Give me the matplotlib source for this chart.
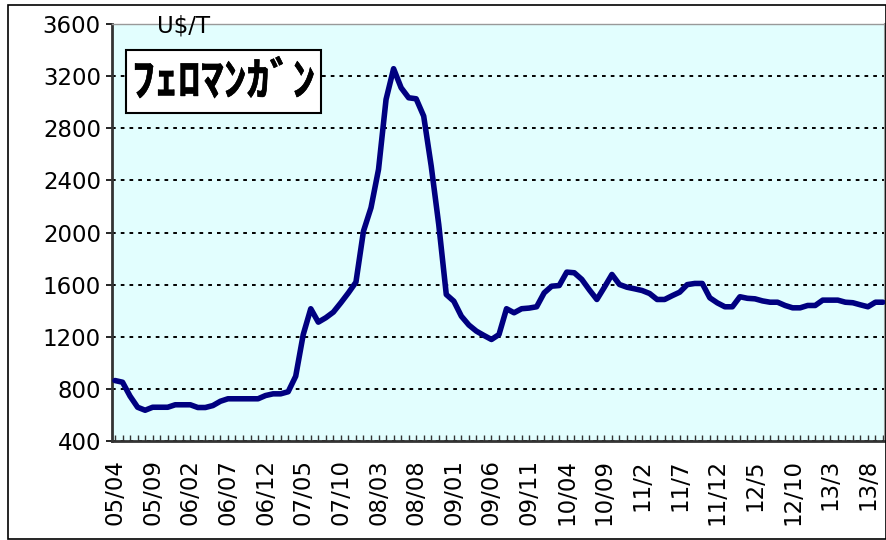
import matplotlib
matplotlib.use("Agg")
import matplotlib.pyplot as plt
from matplotlib.patches import Rectangle
import matplotlib.patheffects as pe
import numpy as np

# Monthly ferromanganese price, US$/T, 2005/04 .. 2013/10
prices = [
    864, 851, 744, 659, 636, 659, 659, 659, 678, 678,
    678, 657, 657, 672, 705, 724, 724, 724, 724, 724,
    749, 762, 762, 778, 897, 1217, 1415, 1312, 1346, 1389,
    1461, 1537, 1619, 2010, 2190, 2484, 3021, 3257, 3111, 3034,
    3026, 2893, 2509, 2060, 1524, 1473, 1358, 1290, 1243, 1210,
    1179, 1217, 1415, 1384, 1415, 1420, 1430, 1537, 1588, 1593,
    1696, 1691, 1640, 1560, 1486, 1580, 1678, 1601, 1580, 1568,
    1555, 1532, 1486, 1486, 1515, 1542, 1600, 1609, 1609, 1499,
    1460, 1430, 1430, 1507, 1495, 1491, 1475, 1465, 1465, 1440,
    1422, 1422, 1440, 1440, 1481, 1481, 1481, 1465, 1461, 1445,
    1430, 1465, 1465,
]
tick_labels = ["05/04", "05/09", "06/02", "06/07", "06/12", "07/05", "07/10",
               "08/03", "08/08", "09/01", "09/06", "09/11", "10/04", "10/09",
               "11/2", "11/7", "11/12", "12/5", "12/10", "13/3", "13/8"]
y_ticks = [400, 800, 1200, 1600, 2000, 2400, 2800, 3200, 3600]
unit_label = "U$/T"
title = "ﾌｪﾛﾏﾝｶﾞﾝ"

W, H = 887, 540
fig = plt.figure(figsize=(W / 100, H / 100), dpi=100)
fig.patch.set_facecolor("white")

L, R, T, B = 112, 885, 24, 441
ax = fig.add_axes([L / W, 1 - B / H, (R - L) / W, (B - T) / H])
ax.set_facecolor("#E2FEFE")

x = np.arange(len(prices))
ax.plot(x, prices, color="#000080", linewidth=4, solid_joinstyle="round",
        solid_capstyle="round", zorder=3)

ax.set_xlim(-0.4, len(prices) - 1 + 0.27)
ax.set_ylim(400, 3600)
ax.set_yticks(y_ticks)
ax.set_yticklabels([str(v) for v in y_ticks], fontsize=16.5,
                   fontfamily="DejaVu Sans")
for v in y_ticks:
    ax.axhline(v, color="black", linewidth=1.4, linestyle=(0, (1.9, 2.6)),
               zorder=2)

ax.set_xticks(np.arange(0, 5 * len(tick_labels), 5))
ax.set_xticklabels(tick_labels, rotation=90, fontsize=16.5,
                   fontfamily="DejaVu Sans")
ax.set_xticks(x, minor=True)
ax.tick_params(axis="x", which="both", direction="in", length=4, width=1,
               color="#333333", pad=13)
ax.tick_params(axis="y", direction="out", length=4, width=1.2, pad=4)

ax.spines["left"].set_color("#333333")
ax.spines["left"].set_linewidth(2)
ax.spines["bottom"].set_color("#333333")
ax.spines["bottom"].set_linewidth(2)
ax.spines["right"].set_color("#999999")
ax.spines["right"].set_linewidth(1.5)
ax.spines["top"].set_color("#999999")
ax.spines["top"].set_linewidth(1)

# unit label
fig.text(184 / W, 1 - 26 / H, unit_label, ha="center", va="center",
         fontsize=16.5, fontfamily="DejaVu Sans", zorder=6)

# title box
bx0, by0, bx1, by1 = 126, 50, 321, 113
fig.patches.append(Rectangle((bx0 / W, 1 - by1 / H), (bx1 - bx0) / W,
                             (by1 - by0) / H, transform=fig.transFigure,
                             facecolor="white", edgecolor="black",
                             linewidth=1.5, zorder=5))
fig.text((bx0 + bx1) / 2 / W, 1 - (by0 + by1 + 2) / 2 / H, title, ha="center",
         va="center", fontsize=33, fontweight="bold",
         fontfamily=["Noto Sans CJK JP", "DejaVu Sans"], zorder=6,
         path_effects=[pe.withStroke(linewidth=0.4, foreground="black")])

# outer frame
fig.patches.append(Rectangle((8 / W, 1 / H), (W - 9) / W, (H - 5.5) / H,
                             transform=fig.transFigure, facecolor="none",
                             edgecolor="black", linewidth=1.2, zorder=0))

fig.savefig("out.png", dpi=100)
